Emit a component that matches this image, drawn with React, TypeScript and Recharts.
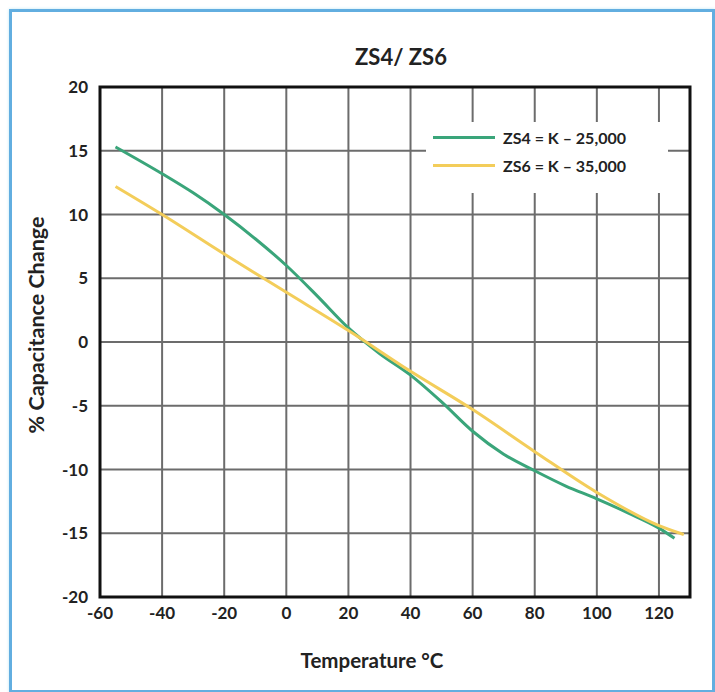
import {
  CartesianGrid,
  Line,
  LineChart,
  ReferenceArea,
  XAxis,
  YAxis,
} from "recharts";

const TITLE = "ZS4/ ZS6";
const X_TITLE = "Temperature °C";
const Y_TITLE = "% Capacitance Change";

const X_TICKS = [-60, -40, -20, 0, 20, 40, 60, 80, 100, 120];
const Y_TICKS = [-20, -15, -10, -5, 0, 5, 10, 15, 20];
const Y_MINOR_TICKS = [
  -19, -18, -17, -16, -14, -13, -12, -11, -9, -8, -7, -6, -4, -3, -2, -1, 1, 2, 3, 4, 6, 7, 8, 9, 11, 12,
  13, 14, 16, 17, 18, 19,
];

const ZS4_TEMPS = [-55, -40, -30, -20, -10, 0, 10, 20, 30, 40, 50, 60, 70, 80, 90, 100, 110, 120, 125];
const ZS4_CHANGE = [15.3, 13.2, 11.7, 10.0, 8.1, 6.0, 3.6, 1.1, -0.9, -2.6, -4.7, -7.0, -8.8, -10.1, -11.3, -12.3, -13.4, -14.6, -15.4];

const ZS6_TEMPS = [-55, -40, -20, 0, 20, 40, 60, 80, 100, 120, 128];
const ZS6_CHANGE = [12.2, 10.0, 6.9, 3.9, 0.9, -2.3, -5.3, -8.6, -11.8, -14.4, -15.1];

const SERIES = [
  { key: "zs4", name: "ZS4 = K \u2013 25,000", color: "#3aa57a", temps: ZS4_TEMPS, values: ZS4_CHANGE },
  { key: "zs6", name: "ZS6 = K \u2013 35,000", color: "#f3cd5a", temps: ZS6_TEMPS, values: ZS6_CHANGE },
];

const FONT = "Lato, 'Open Sans', sans-serif";

export default function App() {
  const tickStyle = { fill: "#222", fontSize: 17, fontWeight: 700, fontFamily: FONT };

  return (
    <div style={{ position: "absolute", left: 0, top: 0, width: 715, height: 692, background: "#fff", fontFamily: FONT }}>
      <div
        style={{
          position: "absolute",
          left: 9,
          top: 9,
          width: 700,
          height: 678,
          border: "3px solid #62aee0",
          boxShadow: "0 0 3px #bfe8f5",
        }}
      />

      <LineChart width={715} height={692} margin={{ top: 87, right: 25, bottom: 65, left: 40 }} style={{ position: "absolute", left: 0, top: 0 }}>
        <CartesianGrid stroke="#6c6c6c" strokeWidth={2} />
        <XAxis
          type="number"
          dataKey="t"
          domain={[-60, 130]}
          ticks={X_TICKS}
          allowDataOverflow
          height={30}
          axisLine={false}
          tickLine={false}
          tickSize={0}
          tickMargin={10}
          tick={tickStyle}
        />
        <YAxis
          type="number"
          domain={[-20, 20]}
          ticks={Y_TICKS}
          allowDataOverflow
          width={60}
          axisLine={false}
          tickLine={false}
          tickSize={0}
          tickMargin={12}
          tick={tickStyle}
        />
        <YAxis
          yAxisId="minor"
          type="number"
          domain={[-20, 20]}
          ticks={Y_MINOR_TICKS}
          mirror
          width={0}
          axisLine={false}
          tick={false}
          tickSize={5}
          tickLine={{ stroke: "#555", strokeWidth: 1.5 }}
        />
        {SERIES.map((s) => (
          <Line
            key={s.key}
            data={s.temps.map((t, i) => ({ t, v: s.values[i] }))}
            dataKey="v"
            name={s.name}
            type="monotone"
            stroke={s.color}
            strokeWidth={3}
            dot={false}
            isAnimationActive={false}
          />
        ))}
        <ReferenceArea x1={-60} x2={130} y1={-20} y2={20} fill="none" stroke="#111" strokeWidth={3} />
      </LineChart>

      <div
        style={{
          position: "absolute",
          left: 401,
          top: 56,
          transform: "translate(-50%, -50%)",
          fontSize: 22,
          fontWeight: 700,
          color: "#222",
          whiteSpace: "nowrap",
        }}
      >
        {TITLE}
      </div>

      <div
        style={{
          position: "absolute",
          left: 372,
          top: 660,
          transform: "translate(-50%, -50%)",
          fontSize: 20.5,
          fontWeight: 700,
          color: "#222",
          whiteSpace: "nowrap",
        }}
      >
        {X_TITLE}
      </div>

      <div
        style={{
          position: "absolute",
          left: 36,
          top: 325,
          transform: "translate(-50%, -50%) rotate(-90deg)",
          fontSize: 21.5,
          fontWeight: 700,
          color: "#222",
          whiteSpace: "nowrap",
        }}
      >
        {Y_TITLE}
      </div>

      <div
        style={{
          position: "absolute",
          left: 426,
          top: 122,
          width: 242,
          height: 71,
          background: "#fff",
        }}
      >
        {SERIES.map((s, i) => (
          <div
            key={s.key}
            style={{
              position: "absolute",
              left: 7,
              top: 3 + i * 28,
              height: 24,
              display: "flex",
              alignItems: "center",
              whiteSpace: "nowrap",
            }}
          >
            <span style={{ display: "inline-block", width: 62, height: 3, background: s.color, marginRight: 8 }} />
            <span style={{ fontSize: 16, fontWeight: 700, color: "#222" }}>{s.name}</span>
          </div>
        ))}
      </div>
    </div>
  );
}
